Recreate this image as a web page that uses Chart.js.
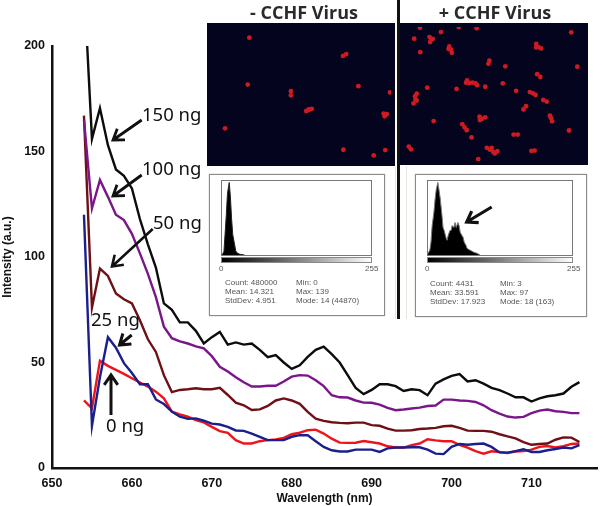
<!DOCTYPE html>
<html>
<head>
<meta charset="utf-8">
<script src="https://cdn.jsdelivr.net/npm/chart.js@4"></script>
<style>
html,body{margin:0;padding:0;background:#fff;width:600px;height:506px;overflow:hidden}
#page{position:relative;width:600px;height:506px}
#page canvas{position:absolute}
.label{position:absolute;font:18.5px "Noto Sans",sans-serif;color:#111;white-space:nowrap;transform:translateY(-50%)}
.title{position:absolute;top:0;font:bold 18px "Open Sans",sans-serif;color:#2a2a2a;white-space:nowrap;text-align:center}
.box{position:absolute;border:1px solid #8a8a8a;box-shadow:0 0 1px #999;box-sizing:border-box;background:#fff}
.frame{position:absolute;border:1px solid #777;box-sizing:border-box}
.grad{position:absolute;height:6px;background:linear-gradient(to right,#000,#fff);border:1px solid #888;box-sizing:border-box}
.small{position:absolute;font:8px "Liberation Sans",sans-serif;color:#555;white-space:nowrap;line-height:9px}
.faint{position:absolute;top:166px;width:1px;height:153px;background:#e6e6de}
#divider{position:absolute;left:397px;top:0;width:3px;height:319px;background:#111}
#arrows{position:absolute;left:0;top:0}
</style>
</head>
<body>
<div id="page">
<canvas id="mainChart" width="600" height="506" style="left:0;top:0"></canvas>

<canvas id="dotsLeft" width="188" height="143" style="left:207px;top:23px"></canvas>
<canvas id="dotsRight" width="188" height="142" style="left:400px;top:23px"></canvas>
<div class="faint" style="left:395px"></div>
<div class="faint" style="left:406px"></div>
<div id="divider"></div>
<div class="title" style="left:210px;width:188px">- CCHF Virus</div>
<div class="title" style="left:401px;width:188px">+ CCHF Virus</div>

<div class="box" style="left:209px;top:174px;width:176px;height:142px"></div>
<div class="box" style="left:415px;top:174px;width:172px;height:143px"></div>
<canvas id="histLeft" width="150" height="74" style="left:221px;top:181px"></canvas>
<canvas id="histRight" width="146" height="74" style="left:427px;top:181px"></canvas>
<div class="frame" style="left:221px;top:180px;width:151px;height:76px"></div>
<div class="frame" style="left:427px;top:180px;width:146px;height:76px"></div>
<div class="grad" style="left:221px;top:257px;width:151px"></div>
<div class="grad" style="left:427px;top:257px;width:146px"></div>

<div class="small" style="left:219px;top:264px">0</div>
<div class="small" style="left:365px;top:264px">255</div>
<div class="small" style="left:425px;top:264px">0</div>
<div class="small" style="left:567px;top:264px">255</div>

<div class="small" style="left:225px;top:278px">Count: 480000<br>Mean: 14.321<br>StdDev: 4.951</div>
<div class="small" style="left:296px;top:278px">Min: 0<br>Max: 139<br>Mode: 14 (44870)</div>
<div class="small" style="left:430px;top:279px">Count: 4431<br>Mean: 33.591<br>StdDev: 17.923</div>
<div class="small" style="left:500px;top:279px">Min: 3<br>Max: 97<br>Mode: 18 (163)</div>

<svg id="arrows" width="600" height="506"></svg>

<div class="label" style="left:142px;top:113px">150 ng</div>
<div class="label" style="left:142px;top:167px">100 ng</div>
<div class="label" style="left:153px;top:221px">50 ng</div>
<div class="label" style="left:91px;top:318px">25 ng</div>
<div class="label" style="left:106px;top:424px">0 ng</div>
</div>

<script>
const wavelengths=[
654,655,656,657,658,659,
660,661,662,663,664,665,666,667,668,669,
670,671,672,673,674,675,676,677,678,679,
680,681,682,683,684,685,686,687,688,689,
690,691,692,693,694,695,696,697,698,699,
700,701,702,703,704,705,706,707,708,709,
710,711,712,713,714,715,716];

const ng150=[
230,156,170.5,153,141.5,138.5,
132.5,118,106,95,78,75,69,69,65,59,
62,64.5,58.5,59.5,58.5,59,56,52.5,53.5,50,
47,48.7,52.7,56,57.5,54,50,44,38,35,
37,39.7,39.7,38.8,36.5,37.3,36.9,34.5,40,42,
43.7,44.5,41,41.6,40,38,36.9,35.3,33.5,33.5,
31.5,33,34,34.5,35.3,38.5,40.7];

const ng100=[
165,123,136.5,128.5,120,117.5,
111,101.7,92,81,67,61.5,60,59,57.6,56.7,
53,48,45.7,43,40.6,38.6,38.6,39,39,41,
43.3,44,43.8,41.6,38.8,34.5,33.5,33.4,32,31,
30.9,30,28.5,27.4,27.7,28.2,28.6,29.4,29.6,32.4,
32.4,32,31.8,31.3,29.7,27.4,25.8,24.4,23.9,24.2,
26,27.2,27.7,26.9,26.6,26,26];

const ng50=[
167,76,94.5,91,82.7,80,
78,70,61,55,44,36,37,37.3,37.8,37.3,
37.3,38,34.6,31,29.7,27.5,27.8,29.4,32,33,
32,30.4,26.6,23.4,22.3,21.7,21.4,21.2,21.5,21.5,
20.3,20,18.7,17.7,17.7,17.9,18.5,18.7,19,19.8,
20,19,17.7,17.6,17.6,17.2,16,15,14,12.3,
11,11.4,11.6,13.4,14.5,14.4,12.3];

const ng25=[
120,20,43,62,57,49.7,
45,39.7,39.7,32.5,30.3,26.7,24.3,23.3,23.5,22.4,
21,20.6,19.5,17.8,17.6,16.3,14.8,13.2,13.2,13.2,
14.8,15.6,15.5,12.7,10,8.4,7.8,7.8,8.7,8.7,
8.7,7.6,9.3,9.7,9.7,9.8,9.8,8.7,6.8,6.6,
10,11.4,11,11.4,11.6,10,7.4,7.3,8,8.9,
7.6,7.6,8.4,9,9.7,9.3,10.8];

const ng0=[
32,28.3,50.8,48.4,46.5,44.6,
42.5,40.5,38.6,36.2,33,26.7,25.4,24.3,22.7,21.6,
19.5,17.5,16.7,13.2,11.6,11.6,12.7,13.2,13.5,14.3,
16,16.7,17.9,18.2,16.3,13.9,12,11.9,12,12.8,
12.2,11.6,10.3,9.7,9.7,10.8,11.6,13.6,13.1,12.7,
12.7,11,9.7,8,6.8,7.9,7.6,7.1,7.8,8,
8.7,10,10.4,9.7,10.3,11.4,11.6];

// histograms: grey level / pixel count
const levelsLeft=[0,2,5,7,9,11,14,16,18,20,23,25,27,32,40];
const countsLeft=[0,0,2244,13461,24700,38100,44870,35900,22400,12600,6700,2700,1350,450,0];
const levelsRight=[0,5,7,9,12,14,16,19,21,23,26,28,30,33,35,37,40,42,44,47,49,51,54,56,58,61,63,65,68,70,72,75,82,87,93];
const countsRight=[0,11,29,66,95,124,146,163,146,128,91,62,55,40,33,44,55,55,66,62,73,62,73,66,51,44,40,29,22,15,13,11,6,4,0];

// red spots in the two micrographs, measured across each image
const spotsLeft=[[120,34],[413,92],[423,86],[115,183],[461,188],[250,204],[250,217],[560,208],[298,267],[306,262],[315,260],[305,264],[540,275],[550,277],[543,284],[44,322],[414,390],[509,408],[545,391]];
const spotsRight=[[50,2],[116,16],[228,4],[172,0],[525,17],[32,37],[80,32],[86,40],[82,48],[90,38],[51,80],[142,62],[148,72],[150,82],[140,70],[415,54],[422,64],[430,68],[415,65],[268,107],[265,117],[318,125],[544,126],[418,150],[428,159],[195,177],[205,178],[215,177],[225,179],[230,185],[198,170],[310,179],[255,190],[73,193],[165,197],[352,203],[395,207],[405,211],[413,216],[40,212],[35,220],[36,230],[40,234],[30,243],[437,232],[448,237],[383,252],[375,262],[255,287],[245,292],[237,285],[238,296],[458,282],[462,290],[465,300],[93,299],[183,309],[190,319],[197,328],[518,329],[344,342],[357,342],[212,351],[15,380],[22,389],[260,384],[270,390],[280,397],[293,395],[275,384],[285,402],[400,394],[410,393],[233,420]];

const arrowLines=[
[141.7,120,113,140,2.8],
[141.7,175,113,196,2.8],
[152.7,229,112,266.5,2.6],
[131.7,335,119.5,345,3],
[111,415,111,375,3],
[491.7,207,466.7,222,3.2]];

Chart.defaults.animation=false;

const tickFont={family:"Liberation Sans",size:12.5,weight:"bold"};
const titleFont={family:"Liberation Sans",size:12,weight:"bold"};

function toPoints(values){
return wavelengths.map((w,i)=>({x:w,y:values[i]}));
}

function lineSet(label,values,color){
return {label,data:toPoints(values),borderColor:color,borderWidth:2.4,pointRadius:0,tension:0,fill:false};
}

new Chart(document.getElementById("mainChart"),{
type:"line",
data:{
datasets:[
lineSet("150 ng",ng150,"#0c0c0c"),
lineSet("100 ng",ng100,"#7a1689"),
lineSet("50 ng",ng50,"#6e1015"),
lineSet("25 ng",ng25,"#1a1f8c"),
lineSet("0 ng",ng0,"#ee141c")
]
},
options:{
responsive:false,
layout:{padding:{top:46,right:1,left:0,bottom:0}},
plugins:{legend:{display:false},tooltip:{enabled:false}},
scales:{
x:{
type:"linear",
min:650,
max:718.2,
afterFit:s=>{s.height=38},
grid:{display:false,drawTicks:true,tickLength:5,tickColor:"#111",tickWidth:1.5},
border:{color:"#111",width:2.5},
ticks:{stepSize:10,color:"#111",font:tickFont,padding:3,maxRotation:0,
callback:v=>v<=710?v:""},
title:{display:true,text:"Wavelength (nm)",color:"#111",font:titleFont,padding:{top:0,bottom:0}}
},
y:{
min:0,
max:200,
afterFit:s=>{s.width=52},
grid:{display:false,drawTicks:true,tickLength:5,tickColor:"#111",tickWidth:1.5},
border:{color:"#111",width:2.5},
ticks:{stepSize:50,color:"#111",font:tickFont,padding:2},
title:{display:true,text:"Intensity (a.u.)",color:"#111",font:titleFont,padding:{top:0,bottom:0}}
}
}
}
});

function drawSpots(id,spots,w,h){
new Chart(document.getElementById(id),{
type:"scatter",
data:{datasets:[{data:spots.map(p=>({x:p[0],y:p[1]})),backgroundColor:"#cf1a22",borderWidth:0,pointRadius:2.4}]},
options:{
responsive:false,
plugins:{legend:{display:false},tooltip:{enabled:false}},
scales:{
x:{display:false,min:0,max:w},
y:{display:false,min:0,max:h,reverse:true}
}
},
plugins:[{
id:"plate",
beforeDraw(c){
c.ctx.fillStyle="#04041e";
c.ctx.fillRect(0,0,c.width,c.height);
}
}]
});
}

drawSpots("dotsLeft",spotsLeft,563,429);
drawSpots("dotsRight",spotsRight,565,426);

function drawHistogram(id,levels,counts,edge){
new Chart(document.getElementById(id),{
type:"line",
data:{datasets:[{data:levels.map((l,i)=>({x:l,y:counts[i]})),borderColor:edge,borderWidth:1,backgroundColor:"#000",fill:"origin",pointRadius:0,tension:0}]},
options:{
responsive:false,
plugins:{legend:{display:false},tooltip:{enabled:false}},
scales:{
x:{type:"linear",display:false,min:0,max:255},
y:{display:false,min:0,max:Math.max(...counts)*1.02}
}
}
});
}

drawHistogram("histLeft",levelsLeft,countsLeft,"#222");
drawHistogram("histRight",levelsRight,countsRight,"#777");

// arrows over the chart
const svg=document.getElementById("arrows");

arrowLines.forEach(a=>{
const [x1,y1,x2,y2,w]=a;
const ang=Math.atan2(y2-y1,x2-x1);
const size=12;
const wing=0.6;
const ax=x2-size*Math.cos(ang-wing),ay=y2-size*Math.sin(ang-wing);
const bx=x2-size*Math.cos(ang+wing),by=y2-size*Math.sin(ang+wing);
svg.innerHTML+=`<path d="M${x1} ${y1}L${x2} ${y2}M${ax} ${ay}L${x2} ${y2}L${bx} ${by}" fill="none" stroke="#111" stroke-width="${w}"/>`;
});
</script>
</body>
</html>
